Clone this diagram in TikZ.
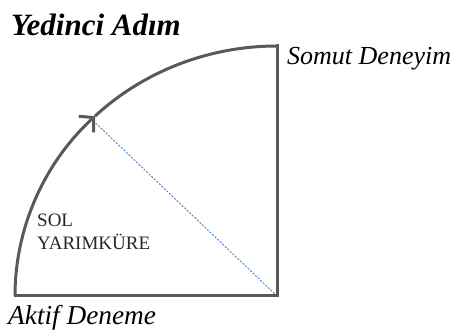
\documentclass[tikz,border=0pt]{standalone}
\usepackage{fontspec}
\setmainfont{Liberation Serif}
\usetikzlibrary{arrows.meta}
\definecolor{linegray}{HTML}{595959}
\definecolor{dashblue}{HTML}{4A7EBB}
\definecolor{textdark}{HTML}{262626}
\begin{document}
\begin{tikzpicture}[x=1pt,y=-1pt,
  edge/.style={draw=linegray, line width=3pt},
  ray/.style={draw=dashblue, line width=0.9pt, dash pattern=on 2pt off 1.5pt},
  label/.style={anchor=base west, inner sep=0pt, font=\fontsize{26}{30}\selectfont\itshape},
  title/.style={anchor=base west, inner sep=0pt, font=\fontsize{31}{36}\selectfont\bfseries\itshape},
  side/.style={anchor=base west, inner sep=0pt, align=left, text=textdark, font=\fontsize{19}{23}\selectfont}]
\useasboundingbox (0,0) rectangle (456,331);
\coordinate (O) at (277,296);
\coordinate (L) at (15,296);
\coordinate (T) at (277,46);
\coordinate (M) at (94.3,121.8);
\draw[ray] (O) -- (M);
\draw[edge, -{Straight Barb[length=10pt,width=22pt]}] (L) arc[start angle=180, end angle=226, x radius=262, y radius=250];
\draw[edge] (L) ++(262,0) ++(226:262 and 250) arc[start angle=226, end angle=270, x radius=262, y radius=250];
\draw[edge, line cap=rect] (T) -- (O) -- (L);
\node[title] (t) at (11,36) {Yedinci Adım};
\node[label] (s) at (287,65) {Somut Deneyim};
\node[label, font=\fontsize{27.3}{31}\selectfont\itshape] (a) at (8,325) {Aktif Deneme};
\node[side] (h) at (37,250) {SOL\\YARIMKÜRE};
\end{tikzpicture}
\end{document}
